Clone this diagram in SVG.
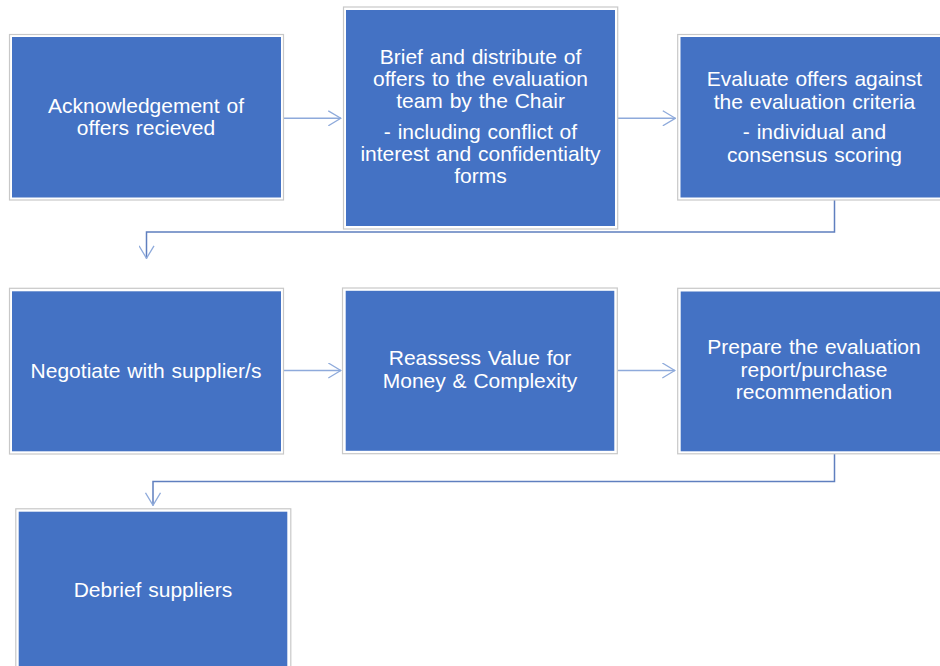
<svg xmlns="http://www.w3.org/2000/svg" width="940" height="666" viewBox="0 0 940 666">
<defs>
<style>
.box{fill:#4472c4}
.frame{fill:none;stroke:#c8c8c8;stroke-width:1.2}
.t{font-family:"Liberation Sans",Arial,sans-serif;font-size:21px;fill:#ffffff;text-anchor:middle;word-spacing:1px}
.straight{fill:none;stroke:#8eaadb;stroke-width:1.5}
.elbow{fill:none;stroke:#5f7fbf;stroke-width:1.5}
</style>
<marker id="ah" viewBox="0 0 14 16" refX="13.2" refY="8" markerWidth="14" markerHeight="16" markerUnits="userSpaceOnUse" orient="auto">
<path d="M0.5,0.5 L13,8 L0.5,15.5" fill="none" stroke="#8eaadb" stroke-width="1.3"/>
</marker>
</defs>
<rect width="940" height="666" fill="#ffffff"/>

<g id="connectors">
<line class="straight" x1="283.5" y1="118.3" x2="341" y2="118.3" marker-end="url(#ah)"/>
<line class="straight" x1="618" y1="118.3" x2="675.5" y2="118.3" marker-end="url(#ah)"/>
<polyline class="elbow" points="834.5,200 834.5,232 146.5,232 146.5,258.5" marker-end="url(#ah)"/>
<line class="straight" x1="283.5" y1="370.5" x2="341" y2="370.5" marker-end="url(#ah)"/>
<line class="straight" x1="617.5" y1="370.5" x2="675" y2="370.5" marker-end="url(#ah)"/>
<polyline class="elbow" points="834.5,454 834.5,481.5 153,481.5 153,505.5" marker-end="url(#ah)"/>
</g>

<g id="n1">
<rect class="frame" x="9.5" y="34.5" width="274" height="165.5"/>
<rect class="box" x="12" y="37" width="269" height="160.5"/>
<text class="t" x="146" y="113">Acknowledgement  of</text>
<text class="t" x="146" y="135">offers recieved</text>
</g>

<g id="n2">
<rect class="frame" x="343.5" y="7" width="274.2" height="222"/>
<rect class="box" x="346" y="10" width="269" height="216"/>
<text class="t" x="480.5" y="63.5">Brief and distribute of</text>
<text class="t" x="480.5" y="86">offers to the evaluation</text>
<text class="t" x="480.5" y="107.5">team by the Chair</text>
<text class="t" x="480.5" y="138.5">- including  conflict of</text>
<text class="t" x="480.5" y="161">interest and confidentialty</text>
<text class="t" x="480.5" y="183">forms</text>
</g>

<g id="n3">
<rect class="frame" x="677.7" y="34.5" width="280" height="165.5"/>
<rect class="box" x="680.5" y="37" width="275" height="160.5"/>
<text class="t" x="814.5" y="86">Evaluate offers against</text>
<text class="t" x="814.5" y="108.5">the evaluation criteria</text>
<text class="t" x="814.5" y="139">- individual and</text>
<text class="t" x="814.5" y="161.5">consensus scoring</text>
</g>

<g id="n4">
<rect class="frame" x="9.5" y="288.3" width="274" height="165.7"/>
<rect class="box" x="12" y="291.3" width="269" height="160"/>
<text class="t" x="146" y="377.5">Negotiate with supplier/s</text>
</g>

<g id="n5">
<rect class="frame" x="342.5" y="288" width="274.8" height="165.7"/>
<rect class="box" x="345.7" y="290.8" width="268.6" height="160"/>
<text class="t" x="480" y="365">Reassess Value for</text>
<text class="t" x="480" y="387.5">Money &amp; Complexity</text>
</g>

<g id="n6">
<rect class="frame" x="677.7" y="288.3" width="280" height="165.5"/>
<rect class="box" x="680.7" y="291.5" width="275" height="159.8"/>
<text class="t" x="814" y="354">Prepare the evaluation</text>
<text class="t" x="814" y="376.5">report/purchase</text>
<text class="t" x="814" y="398.5">recommendation</text>
</g>

<g id="n7">
<rect class="frame" x="15.8" y="508.8" width="275" height="170"/>
<rect class="box" x="18.7" y="511.7" width="268.6" height="170"/>
<text class="t" x="153" y="597">Debrief suppliers</text>
</g>
</svg>
